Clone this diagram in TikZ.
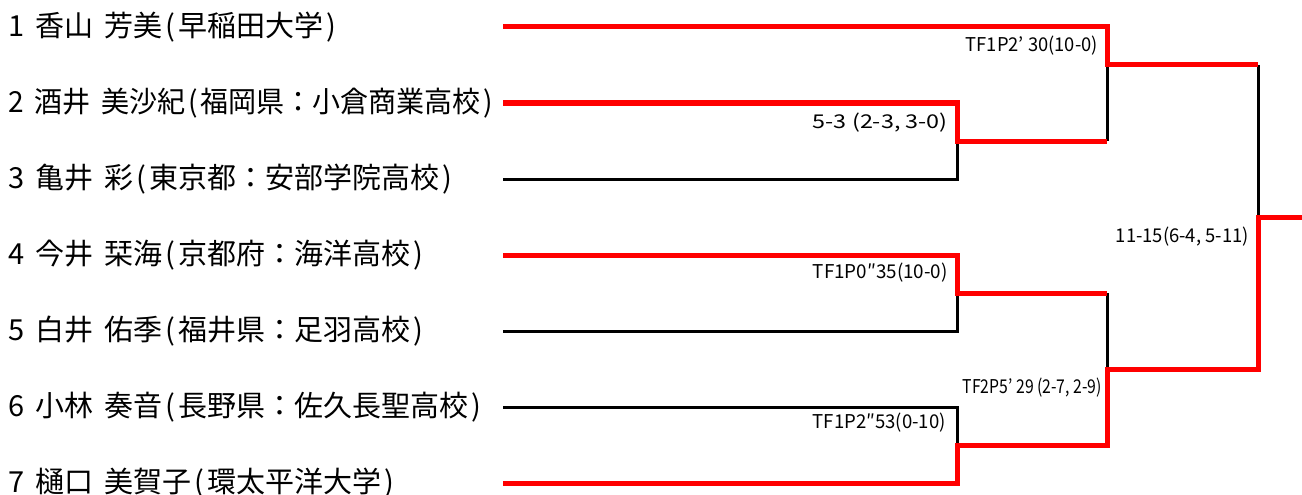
\documentclass[tikz,border=0pt]{standalone}
\usepackage{fontspec}
\newfontfamily\jpfont{Noto Sans CJK JP}
\newcommand{\gap}{\hspace{11pt}}
\newcommand{\lp}{\kern3pt(\kern3pt}
\newcommand{\rp}{\kern3pt)}
\newcommand{\fit}[2]{\resizebox{#1}{\height}{#2}}
\tikzset{
player/.style={anchor=west, inner sep=0pt,
    font=\jpfont\fontsize{29}{29}\selectfont},
score/.style={anchor=east, inner sep=0pt,
    font=\jpfont\fontsize{19}{19}\selectfont},
lost/.style={draw=black, line width=3pt},
won/.style={draw=red, line width=5pt}
}

\begin{document}
\begin{tikzpicture}[x=1pt, y=-1pt]
	\useasboundingbox (0,0) rectangle (1302,495);
	% players
	\node[player] (p1) at (8,27)  {1\gap 香山\gap 芳美\lp 早稲田大学\rp};
	\node[player] (p2) at (8,103) {\fit{485pt}{2\gap 酒井\gap 美沙紀\lp 福岡県：小倉商業高校\rp}};
	\node[player] (p3) at (8,179) {3\gap 亀井\gap 彩\lp 東京都：安部学院高校\rp};
	\node[player] (p4) at (8,255) {4\gap 今井\gap 栞海\lp 京都府：海洋高校\rp};
	\node[player] (p5) at (8,331) {5\gap 白井\gap 佑季\lp 福井県：足羽高校\rp};
	\node[player] (p6) at (8,407) {6\gap 小林\gap 奏音\lp 長野県：佐久長聖高校\rp};
	\node[player] (p7) at (8,483) {7\gap 樋口\gap 美賀子\lp 環太平洋大学\rp};
	% line starts
	\coordinate (a1) at (503,27);  \coordinate (a2) at (503,103);
	\coordinate (a3) at (503,179); \coordinate (a4) at (503,255);
	\coordinate (a5) at (503,331); \coordinate (a6) at (503,407);
	\coordinate (a7) at (503,483);
	% joints
	\coordinate (m23) at (957,141); \coordinate (m45) at (957,293);
	\coordinate (m67) at (957,445);
	\coordinate (semi1) at (1107,65); \coordinate (semi2) at (1107,369);
	\coordinate (fin1) at (1258,65); \coordinate (fin) at (1258,217);
	\coordinate (champ) at (1302,217);
	% losers
	\draw[lost] (a3) -| (m23);
	\draw[lost] (a5) -| (m45);
	\draw[lost] (a6) -| (m67);
	\draw[lost] (semi1) -- (semi1 |- m23);
	\draw[lost] (m45 -| semi2) -- (semi2);
	\draw[lost] (fin1) -- (fin);
	% winners
	\draw[won] (a1) -| (semi1) -- (fin1);
	\draw[won] (a2) -| (m23) -- (m23 -| semi1);
	\draw[won] (a4) -| (m45) -- (m45 -| semi2);
	\draw[won] (a7) -| (m67) -| (semi2) -| (fin) -- (champ);
	% scores
	\node[score] (s1) at (1098,46)  {\fit{132pt}{TF1P2’ 30(10-0)}};
	\node[score] (s2) at (948,123)  {\fit{135pt}{5-3 (2-3, 3-0)}};
	\node[score] (s3) at (948,273)  {\fit{135pt}{TF1P0″35(10-0)}};
	\node[score] (s4) at (1102,388) {\fit{139pt}{TF2P5’ 29 (2-7, 2-9)}};
	\node[score] (s5) at (946,423)  {\fit{133pt}{TF1P2″53(0-10)}};
	\node[score] (s6) at (1249,237) {\fit{133pt}{11-15(6-4, 5-11)}};
\end{tikzpicture}
\end{document}
